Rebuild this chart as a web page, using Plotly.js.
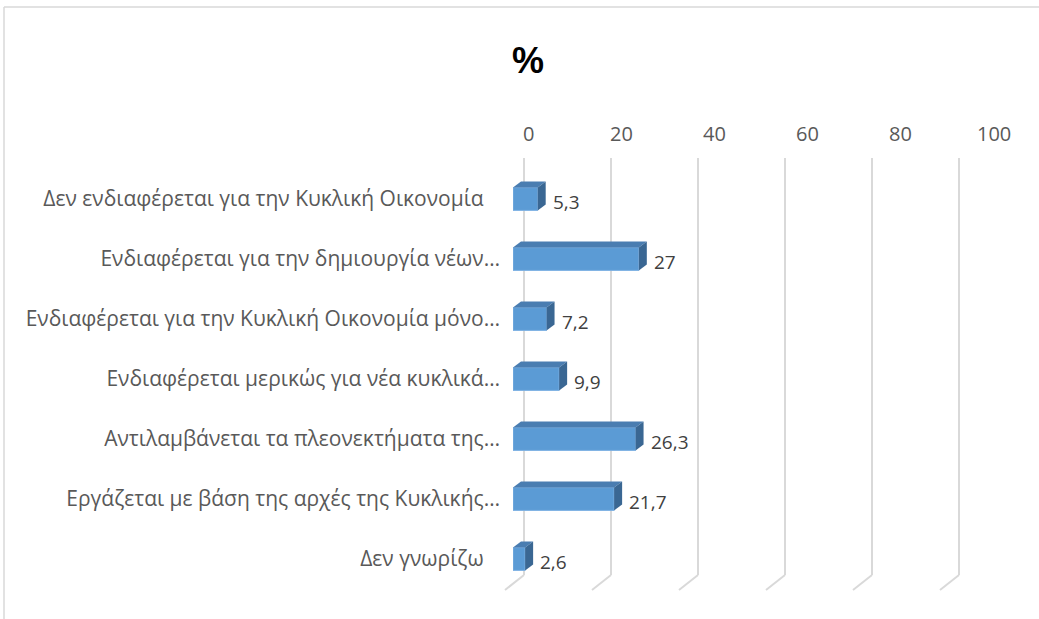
<!DOCTYPE html>
<html>
<head>
<meta charset="utf-8">
<script src="https://cdn.plot.ly/plotly-3.0.1.min.js"></script>
<style>
  html, body { margin: 0; padding: 0; background: #fff; }
  #graph { width: 1039px; height: 619px; }
</style>
</head>
<body>
<div id="graph"></div>
<script>
var categories = [
  'Δεν ενδιαφέρεται για την Κυκλική Οικονομία',
  'Ενδιαφέρεται για την δημιουργία νέων…',
  'Ενδιαφέρεται για την Κυκλική Οικονομία μόνο…',
  'Ενδιαφέρεται μερικώς για νέα κυκλικά…',
  'Αντιλαμβάνεται τα πλεονεκτήματα της…',
  'Εργάζεται με βάση της αρχές της Κυκλικής…',
  'Δεν γνωρίζω'
];
var values = [5.3, 27, 7.2, 9.9, 26.3, 21.7, 2.6];
var xTicks = [0, 20, 40, 60, 80, 100];

var W = 1039, H = 619;
function px(x) { return x / W; }
function py(y) { return 1 - y / H; }

// front plane of the bars, in pixels
var frontLeft = 513, frontRight = 979;
var pxPerUnit = (frontRight - frontLeft) / 100;
var rowTop = 169, rowStep = 60;
// 3d depth of the bars
var dx = 8 / pxPerUnit, dy = 6 / rowStep, half = 0.19;

var idx = categories.map(function (c, i) { return i; });
// Excel leaves a little room after labels that are not cut short
var tickText = categories.map(function (c) {
  return c.slice(-1) === '…' ? c : c + '\u00a0\u00a0\u00a0';
});

var data = [{
  type: 'bar',
  orientation: 'h',
  x: values,
  y: idx,
  width: half * 2,
  marker: { color: '#5b9bd5', line: { color: '#7eb1e3', width: 1 } },
  hoverinfo: 'x'
}];

values.forEach(function (v, i) {
  var top = i - half, bot = i + half;
  data.push({
    type: 'scatter', mode: 'lines', fill: 'toself',
    x: [0, v, v + dx, dx, 0],
    y: [top, top, top - dy, top - dy, top],
    line: { width: 0 }, fillcolor: '#4a7db1',
    hoverinfo: 'skip', showlegend: false
  });
  data.push({
    type: 'scatter', mode: 'lines', fill: 'toself',
    x: [v, v + dx, v + dx, v, v],
    y: [top, top - dy, bot - dy, bot, top],
    line: { width: 0 }, fillcolor: '#3a6793',
    hoverinfo: 'skip', showlegend: false
  });
});

var annotations = values.map(function (v, i) {
  return {
    x: v + dx, y: i + 0.05, xref: 'x', yref: 'y',
    text: String(v).replace('.', ','),
    showarrow: false, xanchor: 'left', xshift: 5,
    font: { size: 19, color: '#404040' }
  };
});
xTicks.forEach(function (t) {
  annotations.push({
    x: t, y: py(133), xref: 'x', yref: 'paper', yanchor: 'middle',
    text: String(t), showarrow: false, xshift: 15,
    font: { size: 20, color: '#595959' }
  });
});

// back wall gridlines with their floor segments
var shapes = [];
xTicks.forEach(function (t) {
  var xb = 524 + t * 4.35;
  shapes.push({
    type: 'line', xref: 'paper', yref: 'paper', layer: 'below',
    x0: px(xb), x1: px(xb), y0: py(158), y1: py(575),
    line: { color: '#d9d9d9', width: 2 }
  });
  shapes.push({
    type: 'line', xref: 'paper', yref: 'paper', layer: 'below',
    x0: px(xb), x1: px(xb - 19), y0: py(575), y1: py(590),
    line: { color: '#d9d9d9', width: 2 }
  });
});
// chart border
shapes.push({ type: 'line', xref: 'paper', yref: 'paper', layer: 'below',
  x0: px(4), x1: px(1045), y0: py(7), y1: py(7), line: { color: '#d9d9d9', width: 1.5 } });
shapes.push({ type: 'line', xref: 'paper', yref: 'paper', layer: 'below',
  x0: px(4), x1: px(4), y0: py(7), y1: py(625), line: { color: '#d9d9d9', width: 1.5 } });

var layout = {
  width: W, height: H,
  margin: { l: 0, r: 0, t: 0, b: 0 },
  paper_bgcolor: '#fff', plot_bgcolor: 'rgba(0,0,0,0)',
  font: { family: 'Open Sans, sans-serif', color: '#595959' },
  showlegend: false,
  title: {
    text: '<b>%</b>', x: px(528), xref: 'paper', xanchor: 'center',
    y: py(60), yref: 'paper', yanchor: 'middle',
    font: { size: 36, color: '#000', family: 'Liberation Sans, sans-serif' }
  },
  xaxis: {
    domain: [px(frontLeft), px(frontRight)], range: [0, 100],
    showgrid: false, zeroline: false, showticklabels: false, showline: false, fixedrange: true
  },
  yaxis: {
    domain: [py(rowTop + rowStep * 7), py(rowTop)], range: [6.5, -0.5],
    tickvals: idx, ticktext: tickText, ticks: '', ticklabelstandoff: 12,
    showgrid: false, zeroline: false, showline: false, fixedrange: true,
    tickfont: { size: 21, color: '#595959' }
  },
  shapes: shapes,
  annotations: annotations
};

Plotly.newPlot('graph', data, layout, { displayModeBar: false, staticPlot: true });
</script>
</body>
</html>
